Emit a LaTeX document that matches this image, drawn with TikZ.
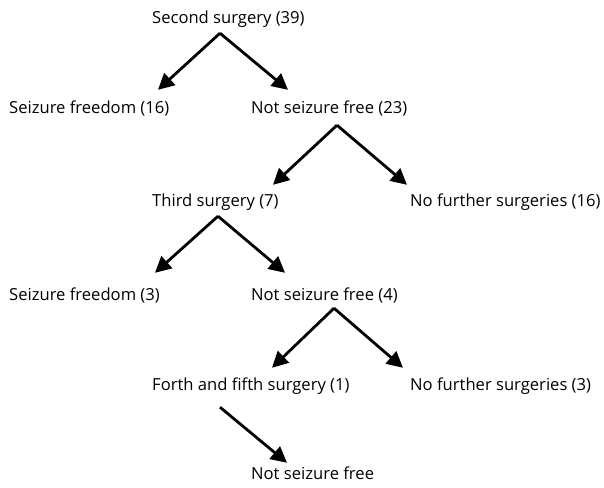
\documentclass[tikz,border=0pt]{standalone}
\usepackage{fontspec}
\setmainfont{Open Sans}
\usetikzlibrary{arrows.meta}

\tikzset{
  lbl/.style={anchor=base west,inner sep=0pt,text height=11pt,text depth=4pt,font=\fontsize{16.6}{19}\selectfont},
  arr/.style={line width=2.8pt,-{Triangle[length=16pt,width=16pt]}}
}

\begin{document}
\begin{tikzpicture}[x=1pt,y=-1pt]
\useasboundingbox (0,0) rectangle (604,487);
\node[lbl] (s2) at (152,24) {Second surgery (39)};
\node[lbl] (sf1) at (9,113) {Seizure freedom (16)};
\node[lbl] (nsf1) at (251,113) {Not seizure free (23)};
\node[lbl] (s3) at (152,206) {Third surgery (7)};
\node[lbl] (nfs1) at (410,206) {No further surgeries (16)};
\node[lbl] (sf2) at (9,300) {Seizure freedom (3)};
\node[lbl] (nsf2) at (251,300) {Not seizure free (4)};
\node[lbl] (ffs) at (152,390) {Forth and fifth surgery (1)};
\node[lbl] (nfs2) at (410,390) {No further surgeries (3)};
\node[lbl] (nsf3) at (251,479) {Not seizure free};
\draw[arr] ([shift={(68,5)}]s2.south west) -- ([shift={(149,-12)}]sf1.north west);
\draw[arr] ([shift={(68,5)}]s2.south west) -- ([shift={(37,-12)}]nsf1.north west);
\draw[arr] ([shift={(86,8)}]nsf1.south west) -- ([shift={(121,-10)}]s3.north west);
\draw[arr] ([shift={(86,8)}]nsf1.south west) -- ([shift={(-3,-10)}]nfs1.north west);
\draw[arr] ([shift={(66,6)}]s3.south west) -- ([shift={(146,-16)}]sf2.north west);
\draw[arr] ([shift={(66,6)}]s3.south west) -- ([shift={(34,-16)}]nsf2.north west);
\draw[arr] ([shift={(83,4)}]nsf2.south west) -- ([shift={(120,-11)}]ffs.north west);
\draw[arr] ([shift={(83,4)}]nsf2.south west) -- ([shift={(-7,-11)}]nfs2.north west);
\draw[arr] ([shift={(68,13)}]ffs.south west) -- ([shift={(36,-5)}]nsf3.north west);
\end{tikzpicture}
\end{document}
